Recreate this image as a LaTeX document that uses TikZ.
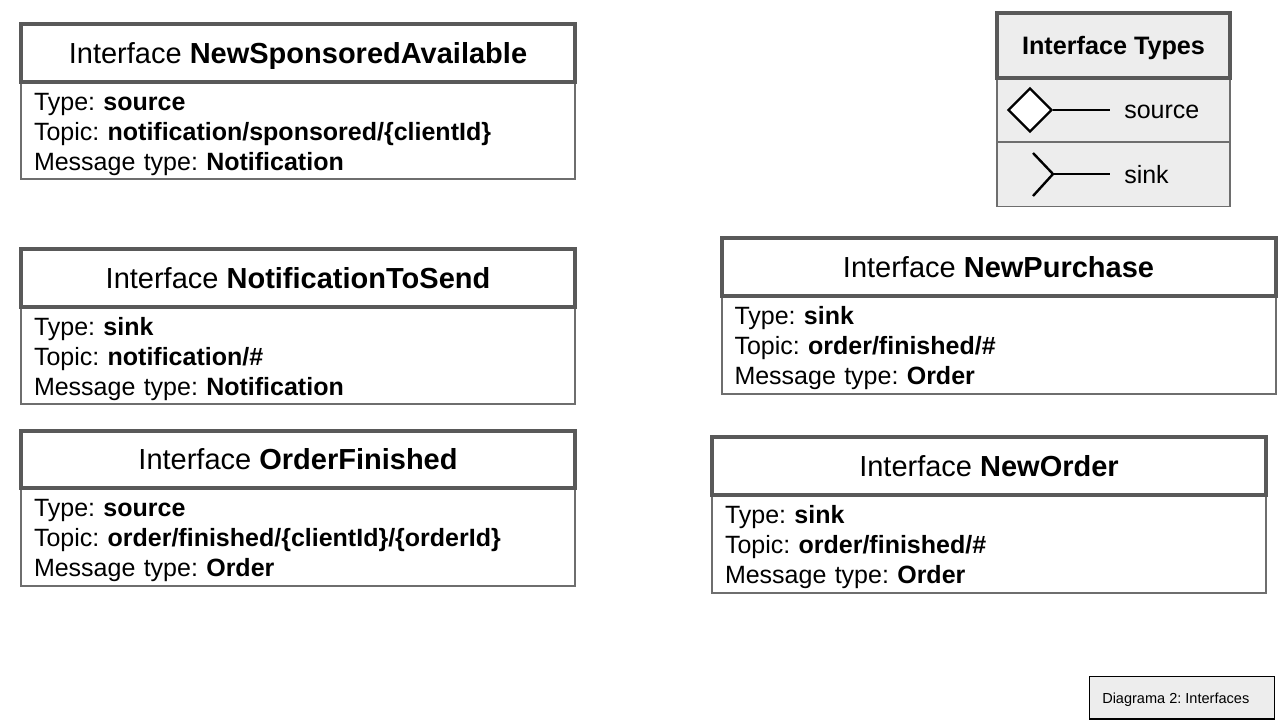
\documentclass[tikz,border=0pt]{standalone}
\usepackage{fontspec}
\usetikzlibrary{shapes.geometric}
\setmainfont{Liberation Sans}
\frenchspacing
\definecolor{boxgray}{HTML}{595959}
\definecolor{linegray}{HTML}{6E6E6E}
\definecolor{legendfill}{HTML}{EDEDED}
\begin{document}
\begin{tikzpicture}
        [x=0.75pt,y=-0.75pt,
        title/.style={rectangle,draw=boxgray,line width=3pt,minimum width=415.5pt,minimum height=43pt,inner sep=0pt,text height=15.6pt,text depth=0pt,font=\fontsize{21.75}{26}\selectfont},
        body/.style={rectangle,draw=linegray,line width=1.5pt,text width=396pt,minimum height=73.5pt,inner xsep=9.75pt,inner ysep=0pt,align=left,execute at begin node=\rule{0pt}{19pt},font=\fontsize{18.75}{22.5}\selectfont},
        legend/.style={rectangle,fill=legendfill,minimum width=174.75pt,inner sep=0pt},
        symbol/.style={line width=1.8pt,black},
        every node/.append style={text=black}]
        \useasboundingbox (0,0) rectangle (1282,726);
        %Left side
        \node[body]  (B1) at (298,130)   {Type: \textbf{source}\\Topic: \textbf{notification/sponsored/\{clientId\}}\\Message type: \textbf{Notification}};
        \node[title] (T1) at (298,53)    {Interface \textbf{NewSponsoredAvailable}};
        \node[body]  (B2) at (298,355)   {Type: \textbf{sink}\\Topic: \textbf{notification/\#}\\Message type: \textbf{Notification}};
        \node[title] (T2) at (298,278)   {Interface \textbf{NotificationToSend}};
        \node[body]  (B3) at (298,536.5) {Type: \textbf{source}\\Topic: \textbf{order/finished/\{clientId\}/\{orderId\}}\\Message type: \textbf{Order}};
        \node[title] (T3) at (298,459.5) {Interface \textbf{OrderFinished}};
        %Right side
        \node[body]  (B4) at (998.5,344.5) {Type: \textbf{sink}\\Topic: \textbf{order/finished/\#}\\Message type: \textbf{Order}};
        \node[title] (T4) at (998.5,267)   {Interface \textbf{NewPurchase}};
        \node[body]  (B5) at (989,543.5)   {Type: \textbf{sink}\\Topic: \textbf{order/finished/\#}\\Message type: \textbf{Order}};
        \node[title] (T5) at (989,466)     {Interface \textbf{NewOrder}};
        %Legend
        \node[legend,draw=linegray,line width=1pt,minimum height=48pt] (R1) at (1113.5,110) {};
        \node[legend,draw=linegray,line width=1pt,minimum height=48pt] (R2) at (1113.5,174.5) {};
        \node[legend,draw=boxgray,line width=3pt,minimum height=48.75pt,text height=13pt,text depth=0pt,font=\fontsize{18.9}{22}\selectfont\bfseries] (LT) at (1113.5,45.5) {Interface Types};
        \node[diamond,aspect=1,draw,fill=white,line width=1.8pt,minimum size=33pt,inner sep=0pt] at (1030,110) (SRC) {};
        \coordinate (SRCE) at (1110,110);
        \draw[symbol] (SRC.east) -- (SRCE);
        \node[anchor=base west,inner sep=0pt,font=\fontsize{18.75}{22.5}\selectfont] (SRCL) at (1124,118.5) {source};
        \coordinate (SNK) at (1053,174);
        \coordinate (SNKE) at (1110,174);
        \coordinate (SNKA) at (1033,153);
        \coordinate (SNKB) at (1033,196);
        \draw[symbol] (SNK) -- (SNKE);
        \draw[symbol] (SNKA) -- (SNK) -- (SNKB);
        \node[anchor=base west,inner sep=0pt,font=\fontsize{18.75}{22.5}\selectfont] (SNKL) at (1124,183) {sink};
        %Caption
        \node[rectangle,draw=black,line width=1pt,fill=legendfill,minimum width=139pt,minimum height=32pt,inner sep=0pt] (CAP) at (1182,697.5) {};
        \node[anchor=base west,inner sep=0pt,font=\fontsize{10.9}{12}\selectfont] (CAPL) at (1102,703) {Diagrama 2: Interfaces};
\end{tikzpicture}
\end{document}
